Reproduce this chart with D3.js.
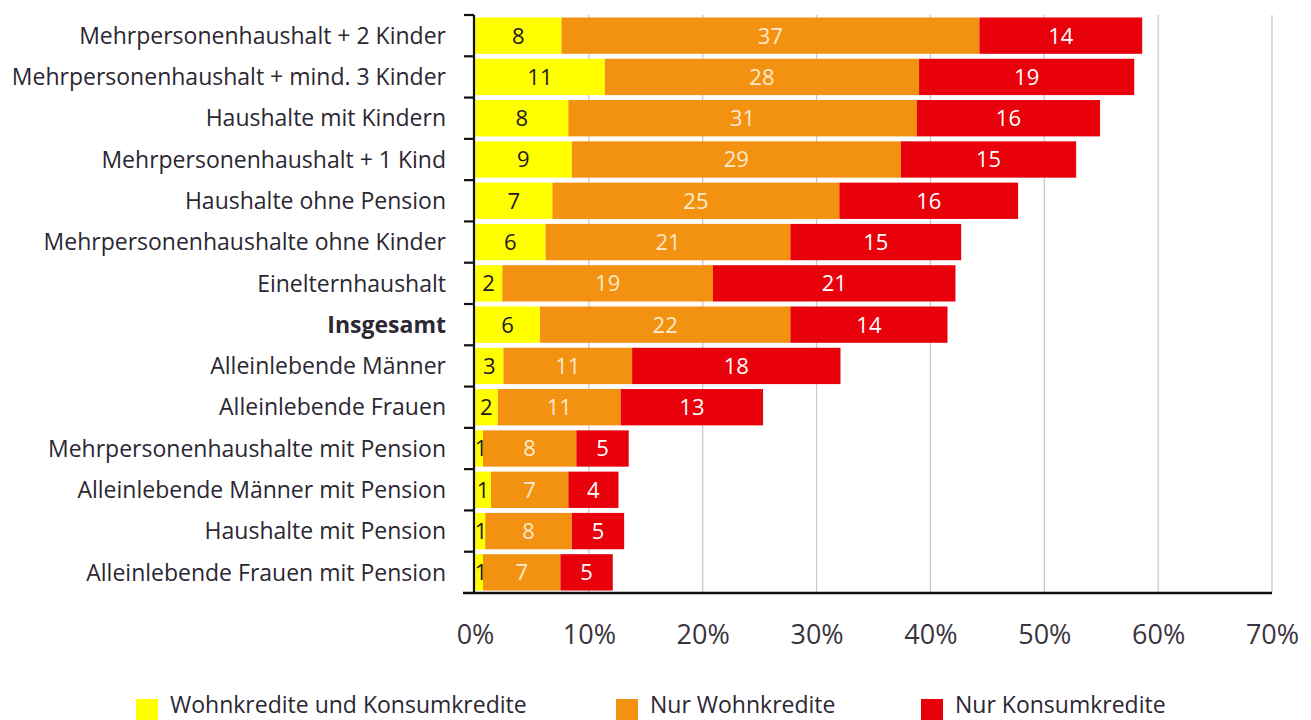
<!DOCTYPE html>
<html>
<head>
<meta charset="utf-8">
<title>Kredite nach Haushaltstyp</title>
<script src="https://d3js.org/d3.v7.min.js"></script>
<style>
  body { margin: 0; background: #fff; }
  text { font-family: "Open Sans", "Noto Sans", sans-serif; fill: #2b2733; }
</style>
</head>
<body>
<svg id="chart" width="1311" height="720"></svg>
<script>
// categories, top to bottom
var categories = [
  "Mehrpersonenhaushalt + 2 Kinder",
  "Mehrpersonenhaushalt + mind. 3 Kinder",
  "Haushalte mit Kindern",
  "Mehrpersonenhaushalt + 1 Kind",
  "Haushalte ohne Pension",
  "Mehrpersonenhaushalte ohne Kinder",
  "Einelternhaushalt",
  "Insgesamt",
  "Alleinlebende Männer",
  "Alleinlebende Frauen",
  "Mehrpersonenhaushalte mit Pension",
  "Alleinlebende Männer mit Pension",
  "Haushalte mit Pension",
  "Alleinlebende Frauen mit Pension"
];
// shares in %
var wohnUndKonsum = [7.6, 11.4, 8.2, 8.5, 6.8, 6.2, 2.4, 5.7, 2.5, 2.0, 0.7, 1.4, 0.9, 0.7];
var nurWohn       = [36.7, 27.6, 30.6, 28.9, 25.2, 21.5, 18.5, 22.0, 11.3, 10.8, 8.2, 6.8, 7.6, 6.8];
var nurKonsum     = [14.3, 18.9, 16.1, 15.4, 15.7, 15.0, 21.3, 13.8, 18.3, 12.5, 4.6, 4.4, 4.6, 4.6];
// printed labels
var lblWohnUndKonsum = [8, 11, 8, 9, 7, 6, 2, 6, 3, 2, 1, 1, 1, 1];
var lblNurWohn       = [37, 28, 31, 29, 25, 21, 19, 22, 11, 11, 8, 7, 8, 7];
var lblNurKonsum     = [14, 19, 16, 15, 16, 15, 21, 14, 18, 13, 5, 4, 5, 5];

var seriesNames = ["Wohnkredite und Konsumkredite", "Nur Wohnkredite", "Nur Konsumkredite"];
var seriesColors = ["#ffff00", "#f39210", "#e8000b"];
var labelColors = ["#1e1a22", "#fbe9cf", "#ffffff"];
var xTicks = [0, 10, 20, 30, 40, 50, 60, 70];

var rows = categories.map(function (c, i) {
  return { cat: c, v: [wohnUndKonsum[i], nurWohn[i], nurKonsum[i]],
           l: [lblWohnUndKonsum[i], lblNurWohn[i], lblNurKonsum[i]] };
});

var svg = d3.select("#chart");
var x = d3.scaleLinear().domain([0, 70]).range([475, 1272]);
var y = d3.scaleBand().domain(categories).range([15, 593]).paddingInner(0.12).paddingOuter(0.06);
var step = y.step();

// grid lines
svg.append("g").selectAll("line").data(xTicks.slice(1)).join("line")
  .attr("x1", d => x(d)).attr("x2", d => x(d))
  .attr("y1", 15).attr("y2", 593)
  .attr("stroke", "#c9c7d2").attr("stroke-width", 1.3);

// bars
var segs = [];
rows.forEach(function (r) {
  var acc = 0;
  r.v.forEach(function (v, k) {
    segs.push({ cat: r.cat, x0: acc, x1: acc + v, k: k, lbl: r.l[k] });
    acc += v;
  });
});
svg.append("g").selectAll("rect").data(segs).join("rect")
  .attr("x", d => x(d.x0))
  .attr("width", d => x(d.x1) - x(d.x0))
  .attr("y", d => y(d.cat))
  .attr("height", y.bandwidth())
  .attr("fill", d => seriesColors[d.k]);

svg.append("g").selectAll("text").data(segs).join("text")
  .attr("x", d => Math.max(x((d.x0 + d.x1) / 2), x(d.x0) + 6))
  .attr("y", d => y(d.cat) + y.bandwidth() / 2)
  .attr("dy", "0.36em")
  .attr("text-anchor", "middle")
  .style("font-size", "22px")
  .style("fill", d => labelColors[d.k])
  .text(d => d.lbl);

// category labels
svg.append("g").selectAll("text").data(categories).join("text")
  .attr("x", 446)
  .attr("y", d => y(d) + y.bandwidth() / 2)
  .attr("dy", "0.36em")
  .attr("text-anchor", "end")
  .style("font-size", "23px")
  .style("font-weight", d => d === "Insgesamt" ? "700" : "400")
  .text(d => d);

// vertical axis with ticks between rows
var yAxis = svg.append("g");
yAxis.append("line").attr("x1", 474).attr("x2", 474).attr("y1", 15).attr("y2", 594)
  .attr("stroke", "#111").attr("stroke-width", 2.2);
yAxis.selectAll("line.tk").data(d3.range(categories.length)).join("line")
  .attr("class", "tk")
  .attr("x1", 464).attr("x2", 474)
  .attr("y1", i => 15 + i * step).attr("y2", i => 15 + i * step)
  .attr("stroke", "#111").attr("stroke-width", 2.2);

// horizontal axis
svg.append("line").attr("x1", 463).attr("x2", 1272).attr("y1", 593).attr("y2", 593)
  .attr("stroke", "#111").attr("stroke-width", 2.4);

var xAxis = svg.append("g").attr("transform", "translate(0,625)")
  .call(d3.axisBottom(x).tickValues(xTicks).tickFormat(d => d + "%").tickSize(0).tickPadding(0));
xAxis.select(".domain").remove();
xAxis.selectAll("text")
  .style("font-family", "\"Open Sans\", sans-serif")
  .style("font-size", "27px")
  .style("fill", "#3a3440");

// legend
var legendX = [136, 616, 921];
var lg = svg.append("g").selectAll("g").data(seriesNames).join("g")
  .attr("transform", (d, i) => "translate(" + legendX[i] + ",699)");
lg.append("rect").attr("width", 22).attr("height", 24).attr("fill", (d, i) => seriesColors[i]);
lg.append("text").attr("x", 34).attr("y", 14)
  .style("font-size", "23px")
  .text(d => d);
</script>
</body>
</html>
